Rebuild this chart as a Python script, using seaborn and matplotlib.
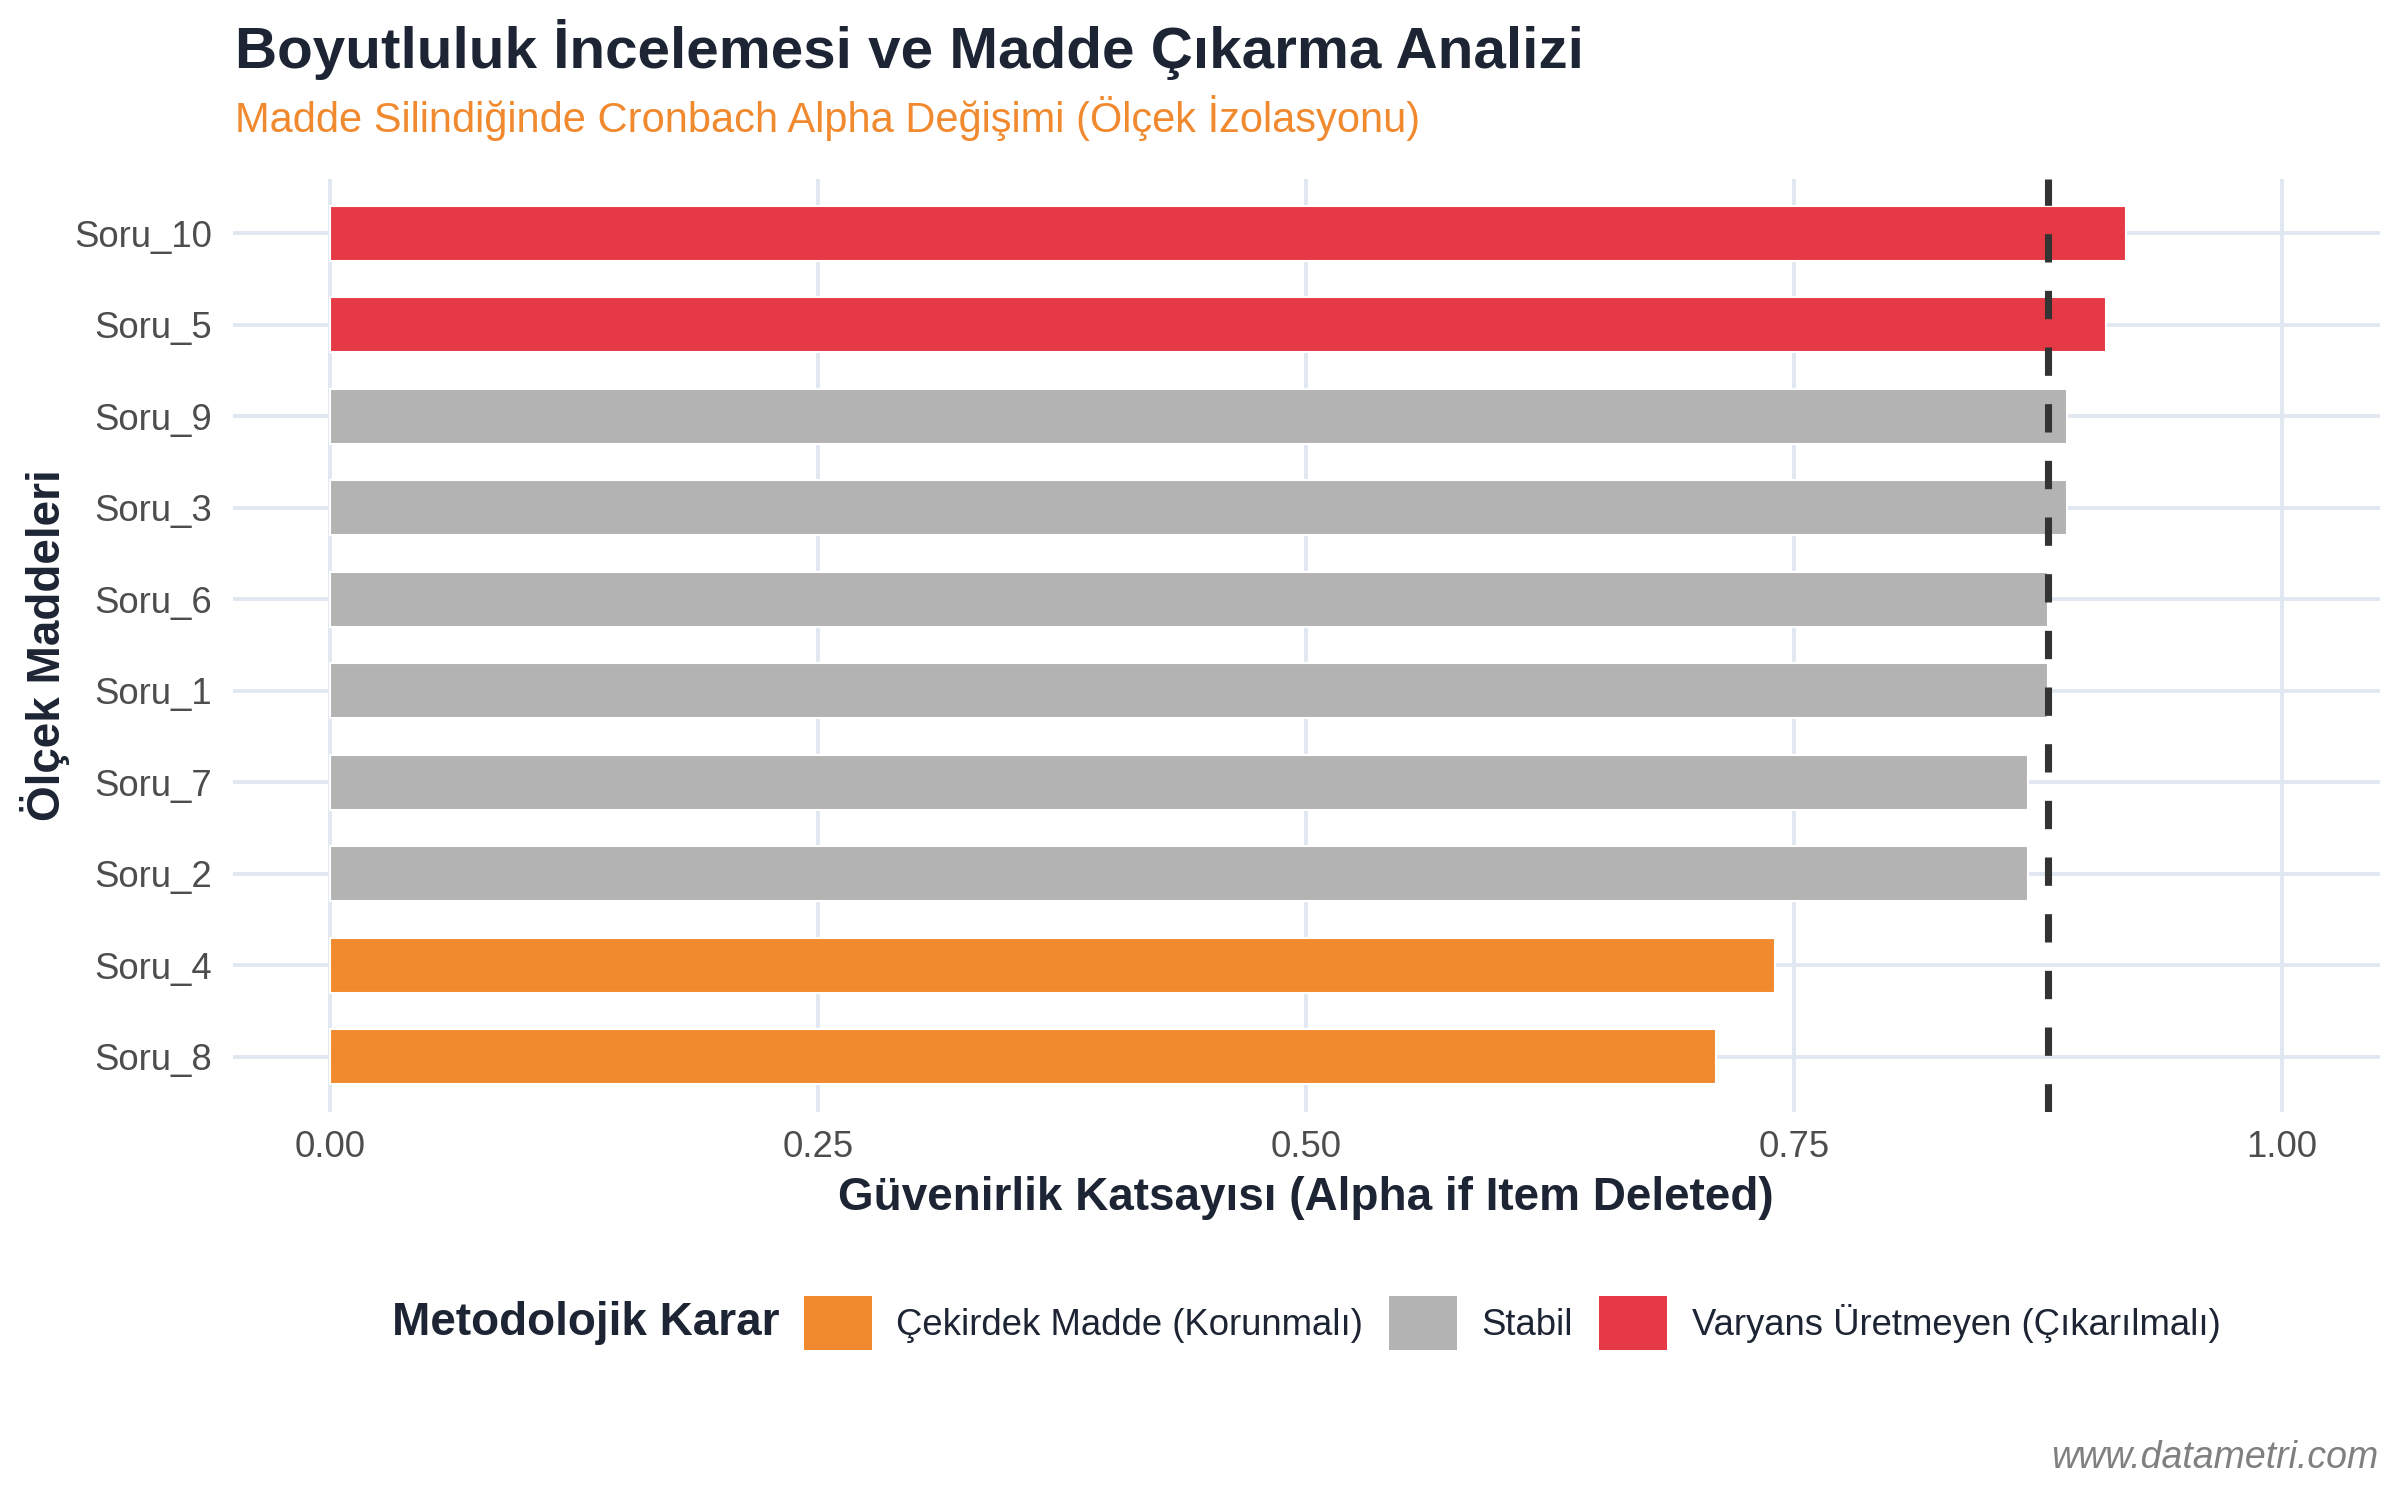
import pandas as pd
import matplotlib
matplotlib.use("Agg")
import matplotlib.pyplot as plt
from matplotlib.patches import Patch
import seaborn as sns

# item-deleted alpha values, top to bottom as in the chart
items = ["Soru_10", "Soru_5", "Soru_9", "Soru_3", "Soru_6",
         "Soru_1", "Soru_7", "Soru_2", "Soru_4", "Soru_8"]
alpha_if_deleted = [0.92, 0.91, 0.89, 0.89, 0.88, 0.88, 0.87, 0.87, 0.74, 0.71]
decisions = ["Varyans Üretmeyen (Çıkarılmalı)", "Varyans Üretmeyen (Çıkarılmalı)",
             "Stabil", "Stabil", "Stabil", "Stabil", "Stabil", "Stabil",
             "Çekirdek Madde (Korunmalı)", "Çekirdek Madde (Korunmalı)"]
overall_alpha = 0.88

legend_order = ["Çekirdek Madde (Korunmalı)", "Stabil", "Varyans Üretmeyen (Çıkarılmalı)"]
colors = ["#F18A2F", "#B3B3B3", "#E63946"]
x_ticks = [0.00, 0.25, 0.50, 0.75, 1.00]

df = pd.DataFrame({"Madde": items, "Alpha": alpha_if_deleted, "Karar": decisions})
palette = dict(zip(legend_order, colors))

sns.set_style("white")
plt.rcParams["font.family"] = ["Liberation Sans", "DejaVu Sans"]

dark = "#1D2433"
grid_col = "#E0E7F0"

fig = plt.figure(figsize=(16, 10), dpi=150)
ax = fig.add_axes([0.097, 0.259, 0.8945, 0.622])

sns.barplot(data=df, x="Alpha", y="Madde", hue="Karar", order=items,
            hue_order=legend_order, palette=palette, dodge=False, saturation=1,
            width=0.6, orient="h", legend=False, ax=ax, zorder=2)

for xt in x_ticks:
    ax.axvline(xt, color=grid_col, lw=1.8, zorder=0)
for i in range(len(items)):
    ax.axhline(i, color=grid_col, lw=1.8, zorder=0)

ax.axvline(overall_alpha, color="#333333", lw=3.4, dashes=(4, 4), zorder=3)

ax.set_xlim(-0.05, 1.05)
ax.set_ylim(len(items) - 0.4, -0.6)
ax.set_xticks(x_ticks)
ax.set_xticklabels([f"{v:.2f}" for v in x_ticks])
for s in ax.spines.values():
    s.set_visible(False)
ax.tick_params(axis="both", length=0, labelsize=17.5, labelcolor="#4D4D4D")
ax.tick_params(axis="x", pad=9)
ax.tick_params(axis="y", pad=10)

ax.set_xlabel("Güvenirlik Katsayısı (Alpha if Item Deleted)", fontsize=22,
              fontweight="bold", color=dark, labelpad=5)
ax.set_ylabel("Ölçek Maddeleri", fontsize=22, fontweight="bold",
              color=dark, labelpad=2)

fig.text(0.098, 0.955, "Boyutluluk İncelemesi ve Madde Çıkarma Analizi",
         fontsize=28, fontweight="bold", color=dark, va="baseline")
fig.text(0.098, 0.912, "Madde Silindiğinde Cronbach Alpha Değişimi (Ölçek İzolasyonu)",
         fontsize=20, color="#F18A2F", va="baseline")

handles = [Patch(facecolor=c, edgecolor="none") for c in colors]
fig.legend(handles, legend_order, loc="center left", bbox_to_anchor=(0.335, 0.118),
           ncol=3, frameon=False, fontsize=17.5, handlelength=1.86,
           handleheight=1.86, handletextpad=0.67, columnspacing=0.72,
           borderpad=0, borderaxespad=0, labelcolor=dark)
fig.text(0.1635, 0.118, "Metodolojik Karar", fontsize=22, fontweight="bold",
         color=dark, va="center")

fig.text(0.991, 0.021, "www.datametri.com", fontsize=18, style="italic",
         color="#808080", ha="right", va="baseline")

fig.savefig("out.png", dpi=150, facecolor="white")
